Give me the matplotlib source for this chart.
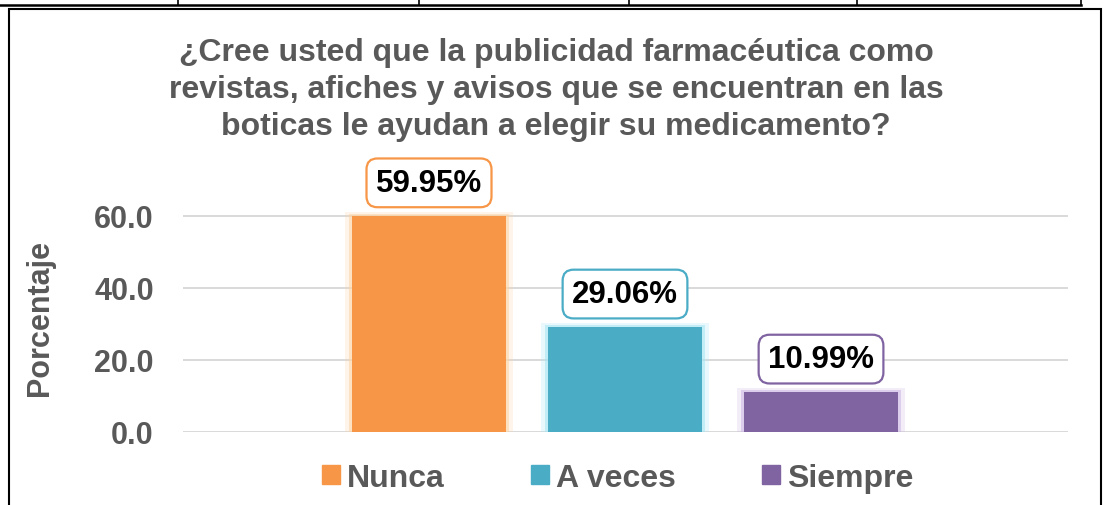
import numpy as np
import matplotlib
matplotlib.use("Agg")
import matplotlib.pyplot as plt
from matplotlib.patches import Patch, Rectangle
from matplotlib.lines import Line2D

plt.rcParams['font.family'] = ['Liberation Sans', 'DejaVu Sans']

categories = ["Nunca", "A veces", "Siempre"]
values = [59.95, 29.06, 10.99]
colors = ["#F79646", "#4BACC6", "#8064A2"]
glow = ["#FCD5A8", "#A8E6F5", "#CDB8E3"]
yticks = [0, 20, 40, 60]
title = ("¿Cree usted que la publicidad farmacéutica como\n"
         "revistas, afiches y avisos que se encuentran en las\n"
         "boticas le ayudan a elegir su medicamento?")
gray = "#595959"

W, H = 1107, 506
fig = plt.figure(figsize=(W / 100, H / 100), dpi=100)

# table lines from the page above the chart
fig.add_artist(Line2D([0, 1081 / W], [1 - 6 / H] * 2, color="black", lw=1.8))
for xv in [178, 419, 629, 857, 1081]:
    fig.add_artist(Line2D([xv / W] * 2, [1, 1 - 6 / H], color="black", lw=1.2))
# chart frame
fig.add_artist(Rectangle((9 / W, -0.05), (1101 - 9) / W, 1.05 - 10 / H,
                         fill=False, ec="black", lw=1.5))

ax = fig.add_axes([183 / W, (H - 433) / H, 885 / W, 252 / H])
x = np.arange(len(categories))
ax.set_xlim(-1.255, 3.26)
ax.set_ylim(0, 70)

# soft glow behind bars
ax.bar(x, np.array(values) + 1.2, width=0.86, color=glow, alpha=0.25, zorder=2)
ax.bar(x, np.array(values) + 0.6, width=0.82, color=glow, alpha=0.6, zorder=2)
ax.bar(x, values, width=0.79, color=colors, zorder=3)

for xi, v, c in zip(x, values, colors):
    ax.annotate(f"{v:.2f}%", (xi, v), xytext=(0, 24), textcoords="offset points",
                ha="center", va="center", fontsize=22.5, fontweight="bold",
                color="black", clip_on=False, zorder=5,
                bbox=dict(boxstyle="round,pad=0.3,rounding_size=0.35",
                          fc="white", ec=c, lw=1.6))

ax.set_yticks(yticks)
ax.set_yticklabels([f"{t:.1f}" for t in yticks], fontsize=22,
                   fontweight="bold", color=gray)
ax.tick_params(axis="y", length=0, pad=21)
ax.set_xticks([])
ax.grid(axis="y", color="#D9D9D9", lw=1.4, zorder=0)
for s in ax.spines.values():
    s.set_visible(False)

fig.text(556 / W, 1 - 90 / H, title, ha="center", va="center", fontsize=23,
         fontweight="bold", color=gray, linespacing=1.3)
fig.text(40 / W, 1 - 318 / H, "Porcentaje", rotation=90, ha="center",
         va="center", fontsize=22, fontweight="bold", color=gray)

handles = [Patch(color=c) for c in colors]
fig.legend(handles, categories, loc="center", bbox_to_anchor=(618 / W, 1 - 479 / H),
           ncol=3, frameon=False, prop=dict(size=23, weight="bold"),
           labelcolor=gray, handlelength=0.55, handleheight=0.55,
           handletextpad=0.23, columnspacing=2.7)

fig.savefig("out.png", dpi=100)
